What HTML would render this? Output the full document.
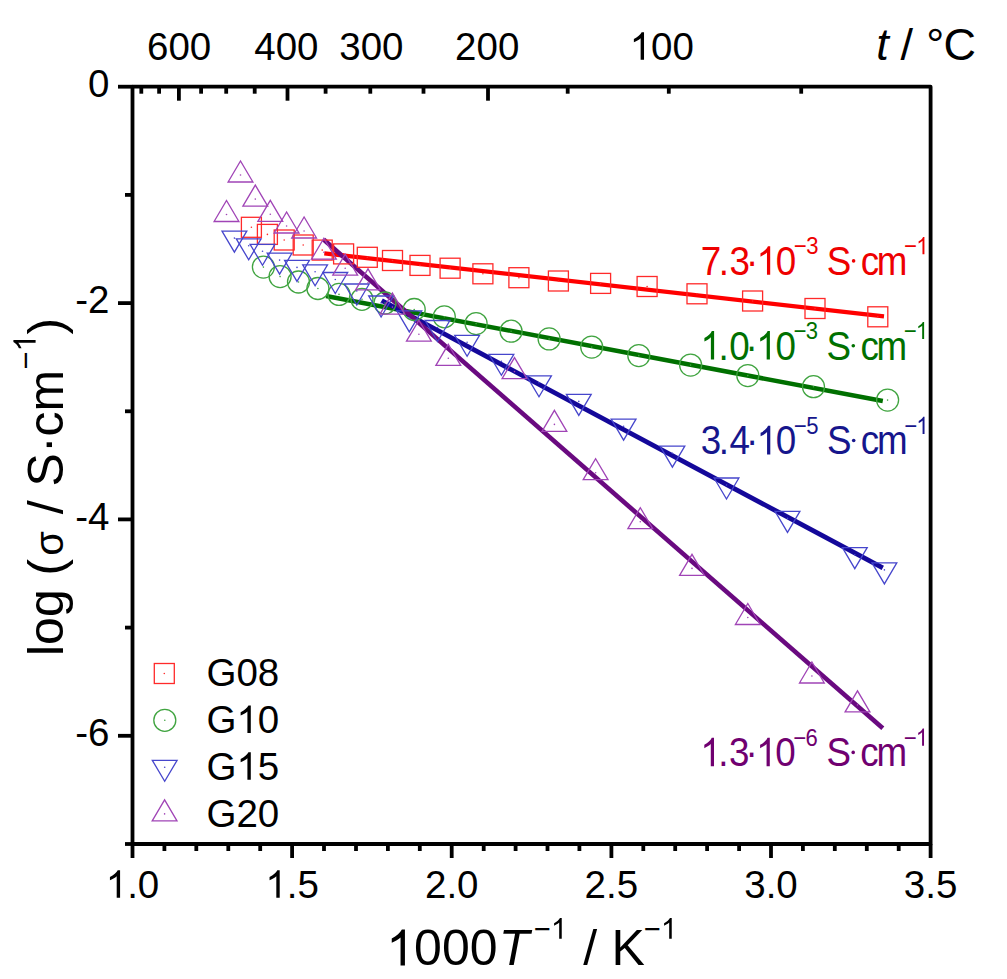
<!DOCTYPE html>
<html><head><meta charset="utf-8"><style>
html,body{margin:0;padding:0;background:#fff;width:1007px;height:979px;overflow:hidden}
svg{display:block}
text{font-family:"Liberation Sans",sans-serif}
</style></head><body><svg width="1007" height="979" viewBox="0 0 1007 979" font-family="Liberation Sans, sans-serif"><rect x="132.5" y="86.7" width="798.1" height="757.3" fill="none" stroke="#000" stroke-width="3.8" stroke-linejoin="round"/><line x1="118.0" y1="86.7" x2="132.5" y2="86.7" stroke="#000" stroke-width="3.8"/><line x1="125.0" y1="194.9" x2="132.5" y2="194.9" stroke="#000" stroke-width="3.8"/><line x1="118.0" y1="303.1" x2="132.5" y2="303.1" stroke="#000" stroke-width="3.8"/><line x1="125.0" y1="411.3" x2="132.5" y2="411.3" stroke="#000" stroke-width="3.8"/><line x1="118.0" y1="519.4" x2="132.5" y2="519.4" stroke="#000" stroke-width="3.8"/><line x1="125.0" y1="627.6" x2="132.5" y2="627.6" stroke="#000" stroke-width="3.8"/><line x1="118.0" y1="735.8" x2="132.5" y2="735.8" stroke="#000" stroke-width="3.8"/><line x1="125.0" y1="844.0" x2="132.5" y2="844.0" stroke="#000" stroke-width="3.8"/><line x1="132.5" y1="844.0" x2="132.5" y2="858.0" stroke="#000" stroke-width="3.8"/><line x1="164.4" y1="844.0" x2="164.4" y2="851.0" stroke="#000" stroke-width="3.8"/><line x1="196.3" y1="844.0" x2="196.3" y2="851.0" stroke="#000" stroke-width="3.8"/><line x1="228.3" y1="844.0" x2="228.3" y2="851.0" stroke="#000" stroke-width="3.8"/><line x1="260.2" y1="844.0" x2="260.2" y2="851.0" stroke="#000" stroke-width="3.8"/><line x1="292.1" y1="844.0" x2="292.1" y2="858.0" stroke="#000" stroke-width="3.8"/><line x1="324.0" y1="844.0" x2="324.0" y2="851.0" stroke="#000" stroke-width="3.8"/><line x1="356.0" y1="844.0" x2="356.0" y2="851.0" stroke="#000" stroke-width="3.8"/><line x1="387.9" y1="844.0" x2="387.9" y2="851.0" stroke="#000" stroke-width="3.8"/><line x1="419.8" y1="844.0" x2="419.8" y2="851.0" stroke="#000" stroke-width="3.8"/><line x1="451.7" y1="844.0" x2="451.7" y2="858.0" stroke="#000" stroke-width="3.8"/><line x1="483.7" y1="844.0" x2="483.7" y2="851.0" stroke="#000" stroke-width="3.8"/><line x1="515.6" y1="844.0" x2="515.6" y2="851.0" stroke="#000" stroke-width="3.8"/><line x1="547.5" y1="844.0" x2="547.5" y2="851.0" stroke="#000" stroke-width="3.8"/><line x1="579.4" y1="844.0" x2="579.4" y2="851.0" stroke="#000" stroke-width="3.8"/><line x1="611.4" y1="844.0" x2="611.4" y2="858.0" stroke="#000" stroke-width="3.8"/><line x1="643.3" y1="844.0" x2="643.3" y2="851.0" stroke="#000" stroke-width="3.8"/><line x1="675.2" y1="844.0" x2="675.2" y2="851.0" stroke="#000" stroke-width="3.8"/><line x1="707.1" y1="844.0" x2="707.1" y2="851.0" stroke="#000" stroke-width="3.8"/><line x1="739.1" y1="844.0" x2="739.1" y2="851.0" stroke="#000" stroke-width="3.8"/><line x1="771.0" y1="844.0" x2="771.0" y2="858.0" stroke="#000" stroke-width="3.8"/><line x1="802.9" y1="844.0" x2="802.9" y2="851.0" stroke="#000" stroke-width="3.8"/><line x1="834.8" y1="844.0" x2="834.8" y2="851.0" stroke="#000" stroke-width="3.8"/><line x1="866.8" y1="844.0" x2="866.8" y2="851.0" stroke="#000" stroke-width="3.8"/><line x1="898.7" y1="844.0" x2="898.7" y2="851.0" stroke="#000" stroke-width="3.8"/><line x1="930.6" y1="844.0" x2="930.6" y2="858.0" stroke="#000" stroke-width="3.8"/><line x1="141.3" y1="86.7" x2="141.3" y2="93.7" stroke="#000" stroke-width="3.8"/><line x1="159.1" y1="86.7" x2="159.1" y2="93.7" stroke="#000" stroke-width="3.8"/><line x1="178.9" y1="86.7" x2="178.9" y2="100.7" stroke="#000" stroke-width="3.8"/><line x1="201.1" y1="86.7" x2="201.1" y2="93.7" stroke="#000" stroke-width="3.8"/><line x1="226.2" y1="86.7" x2="226.2" y2="93.7" stroke="#000" stroke-width="3.8"/><line x1="254.7" y1="86.7" x2="254.7" y2="93.7" stroke="#000" stroke-width="3.8"/><line x1="287.5" y1="86.7" x2="287.5" y2="100.7" stroke="#000" stroke-width="3.8"/><line x1="325.6" y1="86.7" x2="325.6" y2="93.7" stroke="#000" stroke-width="3.8"/><line x1="370.3" y1="86.7" x2="370.3" y2="93.7" stroke="#000" stroke-width="3.8"/><line x1="423.5" y1="86.7" x2="423.5" y2="93.7" stroke="#000" stroke-width="3.8"/><line x1="488.0" y1="86.7" x2="488.0" y2="100.7" stroke="#000" stroke-width="3.8"/><line x1="567.7" y1="86.7" x2="567.7" y2="93.7" stroke="#000" stroke-width="3.8"/><line x1="668.8" y1="86.7" x2="668.8" y2="93.7" stroke="#000" stroke-width="3.8"/><line x1="801.2" y1="86.7" x2="801.2" y2="93.7" stroke="#000" stroke-width="3.8"/><line x1="324.3" y1="253.3" x2="884" y2="316.3" stroke="#ff0000" stroke-width="4.2"/><line x1="326" y1="296" x2="882.8" y2="401" stroke="#007000" stroke-width="4.5"/><line x1="381.7" y1="300.5" x2="882.8" y2="567.8" stroke="#14089a" stroke-width="4.8"/><line x1="323.6" y1="239.6" x2="882.8" y2="728.3" stroke="#6a0a80" stroke-width="4.6"/><rect x="241.4" y="217.3" width="20.0" height="20.0" fill="none" stroke="#ff2a2a" stroke-width="1.3"/><circle cx="251.4" cy="227.3" r="0.8" fill="#ff2a2a"/><rect x="257.4" y="224.4" width="20.0" height="20.0" fill="none" stroke="#ff2a2a" stroke-width="1.3"/><circle cx="267.4" cy="234.4" r="0.8" fill="#ff2a2a"/><rect x="274.2" y="230.0" width="20.0" height="20.0" fill="none" stroke="#ff2a2a" stroke-width="1.3"/><circle cx="284.2" cy="240.0" r="0.8" fill="#ff2a2a"/><rect x="293.2" y="235.0" width="20.0" height="20.0" fill="none" stroke="#ff2a2a" stroke-width="1.3"/><circle cx="303.2" cy="245.0" r="0.8" fill="#ff2a2a"/><rect x="312.2" y="240.1" width="20.0" height="20.0" fill="none" stroke="#ff2a2a" stroke-width="1.3"/><circle cx="322.2" cy="250.1" r="0.8" fill="#ff2a2a"/><rect x="333.6" y="243.9" width="20.0" height="20.0" fill="none" stroke="#ff2a2a" stroke-width="1.3"/><circle cx="343.6" cy="253.9" r="0.8" fill="#ff2a2a"/><rect x="357.3" y="247.3" width="20.0" height="20.0" fill="none" stroke="#ff2a2a" stroke-width="1.3"/><circle cx="367.3" cy="257.3" r="0.8" fill="#ff2a2a"/><rect x="382.5" y="250.5" width="20.0" height="20.0" fill="none" stroke="#ff2a2a" stroke-width="1.3"/><circle cx="392.5" cy="260.5" r="0.8" fill="#ff2a2a"/><rect x="410.0" y="255.4" width="20.0" height="20.0" fill="none" stroke="#ff2a2a" stroke-width="1.3"/><circle cx="420.0" cy="265.4" r="0.8" fill="#ff2a2a"/><rect x="440.1" y="258.2" width="20.0" height="20.0" fill="none" stroke="#ff2a2a" stroke-width="1.3"/><circle cx="450.1" cy="268.2" r="0.8" fill="#ff2a2a"/><rect x="472.9" y="263.8" width="20.0" height="20.0" fill="none" stroke="#ff2a2a" stroke-width="1.3"/><circle cx="482.9" cy="273.8" r="0.8" fill="#ff2a2a"/><rect x="508.9" y="267.7" width="20.0" height="20.0" fill="none" stroke="#ff2a2a" stroke-width="1.3"/><circle cx="518.9" cy="277.7" r="0.8" fill="#ff2a2a"/><rect x="548.4" y="271.0" width="20.0" height="20.0" fill="none" stroke="#ff2a2a" stroke-width="1.3"/><circle cx="558.4" cy="281.0" r="0.8" fill="#ff2a2a"/><rect x="590.6" y="273.4" width="20.0" height="20.0" fill="none" stroke="#ff2a2a" stroke-width="1.3"/><circle cx="600.6" cy="283.4" r="0.8" fill="#ff2a2a"/><rect x="637.1" y="276.5" width="20.0" height="20.0" fill="none" stroke="#ff2a2a" stroke-width="1.3"/><circle cx="647.1" cy="286.5" r="0.8" fill="#ff2a2a"/><rect x="687.0" y="283.8" width="20.0" height="20.0" fill="none" stroke="#ff2a2a" stroke-width="1.3"/><circle cx="697.0" cy="293.8" r="0.8" fill="#ff2a2a"/><rect x="742.6" y="291.0" width="20.0" height="20.0" fill="none" stroke="#ff2a2a" stroke-width="1.3"/><circle cx="752.6" cy="301.0" r="0.8" fill="#ff2a2a"/><rect x="805.0" y="298.5" width="20.0" height="20.0" fill="none" stroke="#ff2a2a" stroke-width="1.3"/><circle cx="815.0" cy="308.5" r="0.8" fill="#ff2a2a"/><rect x="867.8" y="306.8" width="20.0" height="20.0" fill="none" stroke="#ff2a2a" stroke-width="1.3"/><circle cx="877.8" cy="316.8" r="0.8" fill="#ff2a2a"/><circle cx="263.4" cy="267.1" r="11.0" fill="none" stroke="#40a440" stroke-width="1.3"/><circle cx="263.4" cy="267.1" r="0.8" fill="#40a440"/><circle cx="280.1" cy="276.6" r="11.0" fill="none" stroke="#40a440" stroke-width="1.3"/><circle cx="280.1" cy="276.6" r="0.8" fill="#40a440"/><circle cx="298.5" cy="282.0" r="11.0" fill="none" stroke="#40a440" stroke-width="1.3"/><circle cx="298.5" cy="282.0" r="0.8" fill="#40a440"/><circle cx="317.9" cy="288.5" r="11.0" fill="none" stroke="#40a440" stroke-width="1.3"/><circle cx="317.9" cy="288.5" r="0.8" fill="#40a440"/><circle cx="339.0" cy="294.4" r="11.0" fill="none" stroke="#40a440" stroke-width="1.3"/><circle cx="339.0" cy="294.4" r="0.8" fill="#40a440"/><circle cx="362.0" cy="299.3" r="11.0" fill="none" stroke="#40a440" stroke-width="1.3"/><circle cx="362.0" cy="299.3" r="0.8" fill="#40a440"/><circle cx="385.0" cy="303.0" r="11.0" fill="none" stroke="#40a440" stroke-width="1.3"/><circle cx="385.0" cy="303.0" r="0.8" fill="#40a440"/><circle cx="414.2" cy="309.5" r="11.0" fill="none" stroke="#40a440" stroke-width="1.3"/><circle cx="414.2" cy="309.5" r="0.8" fill="#40a440"/><circle cx="444.3" cy="316.8" r="11.0" fill="none" stroke="#40a440" stroke-width="1.3"/><circle cx="444.3" cy="316.8" r="0.8" fill="#40a440"/><circle cx="476.1" cy="323.6" r="11.0" fill="none" stroke="#40a440" stroke-width="1.3"/><circle cx="476.1" cy="323.6" r="0.8" fill="#40a440"/><circle cx="511.1" cy="331.2" r="11.0" fill="none" stroke="#40a440" stroke-width="1.3"/><circle cx="511.1" cy="331.2" r="0.8" fill="#40a440"/><circle cx="549.1" cy="338.9" r="11.0" fill="none" stroke="#40a440" stroke-width="1.3"/><circle cx="549.1" cy="338.9" r="0.8" fill="#40a440"/><circle cx="591.7" cy="347.1" r="11.0" fill="none" stroke="#40a440" stroke-width="1.3"/><circle cx="591.7" cy="347.1" r="0.8" fill="#40a440"/><circle cx="638.8" cy="355.6" r="11.0" fill="none" stroke="#40a440" stroke-width="1.3"/><circle cx="638.8" cy="355.6" r="0.8" fill="#40a440"/><circle cx="690.6" cy="365.1" r="11.0" fill="none" stroke="#40a440" stroke-width="1.3"/><circle cx="690.6" cy="365.1" r="0.8" fill="#40a440"/><circle cx="747.8" cy="375.6" r="11.0" fill="none" stroke="#40a440" stroke-width="1.3"/><circle cx="747.8" cy="375.6" r="0.8" fill="#40a440"/><circle cx="813.5" cy="386.7" r="11.0" fill="none" stroke="#40a440" stroke-width="1.3"/><circle cx="813.5" cy="386.7" r="0.8" fill="#40a440"/><circle cx="887.6" cy="400.1" r="11.0" fill="none" stroke="#40a440" stroke-width="1.3"/><circle cx="887.6" cy="400.1" r="0.8" fill="#40a440"/><path d="M222.0 231.1H246.8L234.4 252.1Z" fill="none" stroke="#4646cc" stroke-width="1.3" stroke-linejoin="miter"/><circle cx="234.4" cy="238.1" r="0.8" fill="#4646cc"/><path d="M236.3 238.8H261.1L248.7 259.8Z" fill="none" stroke="#4646cc" stroke-width="1.3" stroke-linejoin="miter"/><circle cx="248.7" cy="245.8" r="0.8" fill="#4646cc"/><path d="M250.1 244.3H274.9L262.5 265.3Z" fill="none" stroke="#4646cc" stroke-width="1.3" stroke-linejoin="miter"/><circle cx="262.5" cy="251.3" r="0.8" fill="#4646cc"/><path d="M267.2 253.1H292.0L279.6 274.1Z" fill="none" stroke="#4646cc" stroke-width="1.3" stroke-linejoin="miter"/><circle cx="279.6" cy="260.1" r="0.8" fill="#4646cc"/><path d="M284.6 260.4H309.4L297.0 281.4Z" fill="none" stroke="#4646cc" stroke-width="1.3" stroke-linejoin="miter"/><circle cx="297.0" cy="267.4" r="0.8" fill="#4646cc"/><path d="M302.7 264.8H327.5L315.1 285.8Z" fill="none" stroke="#4646cc" stroke-width="1.3" stroke-linejoin="miter"/><circle cx="315.1" cy="271.8" r="0.8" fill="#4646cc"/><path d="M322.9 272.5H347.7L335.3 293.5Z" fill="none" stroke="#4646cc" stroke-width="1.3" stroke-linejoin="miter"/><circle cx="335.3" cy="279.5" r="0.8" fill="#4646cc"/><path d="M344.4 284.0H369.2L356.8 305.0Z" fill="none" stroke="#4646cc" stroke-width="1.3" stroke-linejoin="miter"/><circle cx="356.8" cy="291.0" r="0.8" fill="#4646cc"/><path d="M368.7 296.0H393.5L381.1 317.0Z" fill="none" stroke="#4646cc" stroke-width="1.3" stroke-linejoin="miter"/><circle cx="381.1" cy="303.0" r="0.8" fill="#4646cc"/><path d="M396.9 310.9H421.7L409.3 331.9Z" fill="none" stroke="#4646cc" stroke-width="1.3" stroke-linejoin="miter"/><circle cx="409.3" cy="317.9" r="0.8" fill="#4646cc"/><path d="M425.1 320.5H449.9L437.5 341.5Z" fill="none" stroke="#4646cc" stroke-width="1.3" stroke-linejoin="miter"/><circle cx="437.5" cy="327.5" r="0.8" fill="#4646cc"/><path d="M454.7 335.3H479.5L467.1 356.3Z" fill="none" stroke="#4646cc" stroke-width="1.3" stroke-linejoin="miter"/><circle cx="467.1" cy="342.3" r="0.8" fill="#4646cc"/><path d="M489.0 354.3H513.8L501.4 375.3Z" fill="none" stroke="#4646cc" stroke-width="1.3" stroke-linejoin="miter"/><circle cx="501.4" cy="361.3" r="0.8" fill="#4646cc"/><path d="M526.6 375.8H551.4L539.0 396.8Z" fill="none" stroke="#4646cc" stroke-width="1.3" stroke-linejoin="miter"/><circle cx="539.0" cy="382.8" r="0.8" fill="#4646cc"/><path d="M566.4 394.4H591.2L578.8 415.4Z" fill="none" stroke="#4646cc" stroke-width="1.3" stroke-linejoin="miter"/><circle cx="578.8" cy="401.4" r="0.8" fill="#4646cc"/><path d="M611.2 419.2H636.0L623.6 440.2Z" fill="none" stroke="#4646cc" stroke-width="1.3" stroke-linejoin="miter"/><circle cx="623.6" cy="426.2" r="0.8" fill="#4646cc"/><path d="M660.0 446.2H684.8L672.4 467.2Z" fill="none" stroke="#4646cc" stroke-width="1.3" stroke-linejoin="miter"/><circle cx="672.4" cy="453.2" r="0.8" fill="#4646cc"/><path d="M714.1 478.0H738.9L726.5 499.0Z" fill="none" stroke="#4646cc" stroke-width="1.3" stroke-linejoin="miter"/><circle cx="726.5" cy="485.0" r="0.8" fill="#4646cc"/><path d="M775.1 511.4H799.9L787.5 532.4Z" fill="none" stroke="#4646cc" stroke-width="1.3" stroke-linejoin="miter"/><circle cx="787.5" cy="518.4" r="0.8" fill="#4646cc"/><path d="M842.4 547.7H867.2L854.8 568.7Z" fill="none" stroke="#4646cc" stroke-width="1.3" stroke-linejoin="miter"/><circle cx="854.8" cy="554.7" r="0.8" fill="#4646cc"/><path d="M872.0 562.9H896.8L884.4 583.9Z" fill="none" stroke="#4646cc" stroke-width="1.3" stroke-linejoin="miter"/><circle cx="884.4" cy="569.9" r="0.8" fill="#4646cc"/><path d="M214.1 221.5H238.9L226.5 200.5Z" fill="none" stroke="#a044b6" stroke-width="1.3" stroke-linejoin="miter"/><circle cx="226.5" cy="214.5" r="0.8" fill="#a044b6"/><path d="M228.1 182.0H252.9L240.5 161.0Z" fill="none" stroke="#a044b6" stroke-width="1.3" stroke-linejoin="miter"/><circle cx="240.5" cy="175.0" r="0.8" fill="#a044b6"/><path d="M242.9 206.1H267.7L255.3 185.1Z" fill="none" stroke="#a044b6" stroke-width="1.3" stroke-linejoin="miter"/><circle cx="255.3" cy="199.1" r="0.8" fill="#a044b6"/><path d="M257.9 221.3H282.7L270.3 200.3Z" fill="none" stroke="#a044b6" stroke-width="1.3" stroke-linejoin="miter"/><circle cx="270.3" cy="214.3" r="0.8" fill="#a044b6"/><path d="M274.2 233.0H299.0L286.6 212.0Z" fill="none" stroke="#a044b6" stroke-width="1.3" stroke-linejoin="miter"/><circle cx="286.6" cy="226.0" r="0.8" fill="#a044b6"/><path d="M291.7 238.0H316.5L304.1 217.0Z" fill="none" stroke="#a044b6" stroke-width="1.3" stroke-linejoin="miter"/><circle cx="304.1" cy="231.0" r="0.8" fill="#a044b6"/><path d="M311.5 259.2H336.3L323.9 238.2Z" fill="none" stroke="#a044b6" stroke-width="1.3" stroke-linejoin="miter"/><circle cx="323.9" cy="252.2" r="0.8" fill="#a044b6"/><path d="M332.8 275.2H357.6L345.2 254.2Z" fill="none" stroke="#a044b6" stroke-width="1.3" stroke-linejoin="miter"/><circle cx="345.2" cy="268.2" r="0.8" fill="#a044b6"/><path d="M355.6 289.9H380.4L368.0 268.9Z" fill="none" stroke="#a044b6" stroke-width="1.3" stroke-linejoin="miter"/><circle cx="368.0" cy="282.9" r="0.8" fill="#a044b6"/><path d="M380.0 314.1H404.8L392.4 293.1Z" fill="none" stroke="#a044b6" stroke-width="1.3" stroke-linejoin="miter"/><circle cx="392.4" cy="307.1" r="0.8" fill="#a044b6"/><path d="M406.5 341.2H431.3L418.9 320.2Z" fill="none" stroke="#a044b6" stroke-width="1.3" stroke-linejoin="miter"/><circle cx="418.9" cy="334.2" r="0.8" fill="#a044b6"/><path d="M435.9 365.3H460.7L448.3 344.3Z" fill="none" stroke="#a044b6" stroke-width="1.3" stroke-linejoin="miter"/><circle cx="448.3" cy="358.3" r="0.8" fill="#a044b6"/><path d="M502.1 378.6H526.9L514.5 357.6Z" fill="none" stroke="#a044b6" stroke-width="1.3" stroke-linejoin="miter"/><circle cx="514.5" cy="371.6" r="0.8" fill="#a044b6"/><path d="M542.0 431.4H566.8L554.4 410.4Z" fill="none" stroke="#a044b6" stroke-width="1.3" stroke-linejoin="miter"/><circle cx="554.4" cy="424.4" r="0.8" fill="#a044b6"/><path d="M583.2 479.7H608.0L595.6 458.7Z" fill="none" stroke="#a044b6" stroke-width="1.3" stroke-linejoin="miter"/><circle cx="595.6" cy="472.7" r="0.8" fill="#a044b6"/><path d="M627.9 528.7H652.7L640.3 507.7Z" fill="none" stroke="#a044b6" stroke-width="1.3" stroke-linejoin="miter"/><circle cx="640.3" cy="521.7" r="0.8" fill="#a044b6"/><path d="M679.6 575.4H704.4L692.0 554.4Z" fill="none" stroke="#a044b6" stroke-width="1.3" stroke-linejoin="miter"/><circle cx="692.0" cy="568.4" r="0.8" fill="#a044b6"/><path d="M735.4 624.5H760.2L747.8 603.5Z" fill="none" stroke="#a044b6" stroke-width="1.3" stroke-linejoin="miter"/><circle cx="747.8" cy="617.5" r="0.8" fill="#a044b6"/><path d="M799.5 683.0H824.3L811.9 662.0Z" fill="none" stroke="#a044b6" stroke-width="1.3" stroke-linejoin="miter"/><circle cx="811.9" cy="676.0" r="0.8" fill="#a044b6"/><path d="M845.1 711.9H869.9L857.5 690.9Z" fill="none" stroke="#a044b6" stroke-width="1.3" stroke-linejoin="miter"/><circle cx="857.5" cy="704.9" r="0.8" fill="#a044b6"/><text x="88.09" y="96.90" font-size="38.5" fill="#000">0</text><text x="75.27" y="313.27" font-size="38.5" fill="#000">-</text><text x="88.09" y="313.27" font-size="38.5" fill="#000">2</text><text x="75.27" y="529.64" font-size="38.5" fill="#000">-</text><text x="88.09" y="529.64" font-size="38.5" fill="#000">4</text><text x="75.27" y="746.01" font-size="38.5" fill="#000">-</text><text x="88.09" y="746.01" font-size="38.5" fill="#000">6</text><path d="M120.08 897.70L116.70 897.70L116.70 876.14C115.88 876.92 114.81 877.70 113.48 878.48C112.15 879.26 110.96 879.84 109.93 880.22L109.93 876.94C111.78 876.08 113.40 875.03 114.79 873.79C116.17 872.55 117.15 871.34 117.73 870.14L120.08 870.14Z" fill="#000"/><text x="127.15" y="897.70" font-size="38.5" fill="#000">.</text><text x="137.85" y="897.70" font-size="38.5" fill="#000">0</text><path d="M279.70 897.70L276.32 897.70L276.32 876.14C275.50 876.92 274.43 877.70 273.10 878.48C271.77 879.26 270.58 879.84 269.55 880.22L269.55 876.94C271.40 876.08 273.02 875.03 274.41 873.79C275.79 872.55 276.77 871.34 277.35 870.14L279.70 870.14Z" fill="#000"/><text x="286.77" y="897.70" font-size="38.5" fill="#000">.</text><text x="297.47" y="897.70" font-size="38.5" fill="#000">5</text><text x="424.98" y="897.70" font-size="38.5" fill="#000">2</text><text x="446.39" y="897.70" font-size="38.5" fill="#000">.</text><text x="457.09" y="897.70" font-size="38.5" fill="#000">0</text><text x="584.60" y="897.70" font-size="38.5" fill="#000">2</text><text x="606.01" y="897.70" font-size="38.5" fill="#000">.</text><text x="616.71" y="897.70" font-size="38.5" fill="#000">5</text><text x="744.22" y="897.70" font-size="38.5" fill="#000">3</text><text x="765.63" y="897.70" font-size="38.5" fill="#000">.</text><text x="776.33" y="897.70" font-size="38.5" fill="#000">0</text><text x="903.84" y="897.70" font-size="38.5" fill="#000">3</text><text x="925.25" y="897.70" font-size="38.5" fill="#000">.</text><text x="935.95" y="897.70" font-size="38.5" fill="#000">5</text><text x="146.98" y="59.70" font-size="38.5" fill="#000">6</text><text x="168.39" y="59.70" font-size="38.5" fill="#000">0</text><text x="189.81" y="59.70" font-size="38.5" fill="#000">0</text><text x="254.28" y="59.70" font-size="38.5" fill="#000">4</text><text x="275.69" y="59.70" font-size="38.5" fill="#000">0</text><text x="297.11" y="59.70" font-size="38.5" fill="#000">0</text><text x="339.28" y="59.70" font-size="38.5" fill="#000">3</text><text x="360.69" y="59.70" font-size="38.5" fill="#000">0</text><text x="382.11" y="59.70" font-size="38.5" fill="#000">0</text><text x="455.08" y="59.70" font-size="38.5" fill="#000">2</text><text x="476.49" y="59.70" font-size="38.5" fill="#000">0</text><text x="497.91" y="59.70" font-size="38.5" fill="#000">0</text><path d="M644.03 59.70L640.64 59.70L640.64 38.14C639.82 38.92 638.75 39.70 637.42 40.48C636.10 41.26 634.90 41.84 633.87 42.22L633.87 38.94C635.73 38.08 637.34 37.03 638.73 35.79C640.12 34.55 641.09 33.34 641.67 32.14L644.03 32.14Z" fill="#000"/><text x="651.09" y="59.70" font-size="38.5" fill="#000">0</text><text x="672.51" y="59.70" font-size="38.5" fill="#000">0</text><text x="876.30" y="59.50" font-size="45" fill="#000" font-style="italic">t</text><text x="900.40" y="59.50" font-size="45" fill="#000">/</text><text x="926.30" y="59.50" font-size="45" fill="#000">°</text><text x="943.40" y="59.50" font-size="45" fill="#000">C</text><path d="M404.93 965.40L400.54 965.40L400.54 937.39C399.47 938.41 398.07 939.42 396.35 940.44C394.63 941.45 393.07 942.20 391.75 942.69L391.75 938.44C394.15 937.32 396.25 935.95 398.05 934.35C399.85 932.74 401.12 931.17 401.88 929.61L404.93 929.61Z" fill="#000"/><text x="414.11" y="965.40" font-size="50" fill="#000">0</text><text x="441.92" y="965.40" font-size="50" fill="#000">0</text><text x="469.72" y="965.40" font-size="50" fill="#000">0</text><text x="498.70" y="965.40" font-size="50" fill="#000" font-style="italic">T</text><text x="534.00" y="938.80" font-size="29" fill="#000">−</text><path d="M561.74 938.80L559.19 938.80L559.19 922.56C558.57 923.15 557.77 923.73 556.76 924.32C555.77 924.91 554.87 925.35 554.09 925.63L554.09 923.17C555.49 922.52 556.71 921.72 557.75 920.79C558.79 919.85 559.53 918.95 559.97 918.04L561.74 918.04Z" fill="#000"/><text x="583.20" y="965.40" font-size="50" fill="#000">/</text><text x="611.40" y="965.40" font-size="50" fill="#000">K</text><text x="644.00" y="938.80" font-size="29" fill="#000">−</text><path d="M671.74 938.80L669.19 938.80L669.19 922.56C668.57 923.15 667.77 923.73 666.76 924.32C665.77 924.91 664.87 925.35 664.09 925.63L664.09 923.17C665.49 922.52 666.71 921.72 667.75 920.79C668.79 919.85 669.53 918.95 669.97 918.04L671.74 918.04Z" fill="#000"/><g transform="translate(63,656) rotate(-90)"><text x="0.00" y="0.00" font-size="50" fill="#000">l</text><text x="11.11" y="0.00" font-size="50" fill="#000">o</text><text x="38.92" y="0.00" font-size="50" fill="#000">g</text><text x="80.62" y="0.00" font-size="50" fill="#000">(</text><text x="100.27" y="0.00" font-size="40" fill="#000">σ</text><text x="141.84" y="0.00" font-size="50" fill="#000">/</text><text x="169.63" y="0.00" font-size="50" fill="#000">S</text><text x="202.98" y="0.00" font-size="50" fill="#000">·</text><text x="219.63" y="0.00" font-size="50" fill="#000">c</text><text x="244.63" y="0.00" font-size="50" fill="#000">m</text><text x="286.28" y="-27.40" font-size="31" fill="#000">−</text><path d="M315.93 -27.40L313.21 -27.40L313.21 -44.76C312.55 -44.13 311.68 -43.50 310.61 -42.88C309.55 -42.25 308.58 -41.78 307.76 -41.48L307.76 -44.11C309.25 -44.81 310.55 -45.66 311.67 -46.65C312.78 -47.65 313.57 -48.62 314.04 -49.59L315.93 -49.59Z" fill="#000"/><text x="321.62" y="0.00" font-size="50" fill="#000">)</text></g><text transform="translate(700.70,274.80) scale(0.92,1)" font-size="40" fill="#ee0000">7</text><text transform="translate(718.75,274.80) scale(0.92,1)" font-size="40" fill="#ee0000">.</text><text transform="translate(729.52,274.80) scale(0.92,1)" font-size="40" fill="#ee0000">3</text><text transform="translate(745.92,274.80) scale(0.92,1)" font-size="40" fill="#ee0000">·</text><path d="M770.20 274.80L766.97 274.80L766.97 252.40C766.19 253.21 765.16 254.02 763.89 254.83C762.62 255.64 761.48 256.24 760.50 256.64L760.50 253.24C762.27 252.34 763.82 251.24 765.14 249.96C766.47 248.67 767.40 247.42 767.96 246.17L770.20 246.17Z" fill="#ee0000"/><text transform="translate(775.76,274.80) scale(0.92,1)" font-size="40" fill="#ee0000">0</text><text transform="translate(793.72,254.30) scale(0.92,1)" font-size="24" fill="#ee0000">−</text><text transform="translate(806.16,254.30) scale(0.92,1)" font-size="24" fill="#ee0000">3</text><text transform="translate(826.84,274.80) scale(0.92,1)" font-size="40" fill="#ee0000">S</text><circle cx="853.6" cy="260.9" r="1.8" fill="#ee0000"/><text transform="translate(860.75,274.80) scale(0.92,1)" font-size="40" fill="#ee0000">c</text><text transform="translate(876.87,274.80) scale(0.92,1)" font-size="40" fill="#ee0000">m</text><text transform="translate(904.12,254.30) scale(0.92,1)" font-size="24" fill="#ee0000">−</text><path d="M924.42 254.30L922.48 254.30L922.48 240.86C922.01 241.34 921.40 241.83 920.63 242.32C919.87 242.80 919.19 243.17 918.60 243.40L918.60 241.36C919.66 240.82 920.59 240.17 921.38 239.39C922.18 238.62 922.74 237.87 923.07 237.12L924.42 237.12Z" fill="#ee0000"/><path d="M714.11 359.60L710.88 359.60L710.88 337.20C710.09 338.01 709.07 338.82 707.80 339.63C706.53 340.44 705.39 341.04 704.41 341.44L704.41 338.04C706.18 337.14 707.72 336.04 709.05 334.76C710.37 333.47 711.31 332.22 711.86 330.97L714.11 330.97Z" fill="#007000"/><text transform="translate(718.45,359.60) scale(0.92,1)" font-size="40" fill="#007000">.</text><text transform="translate(729.22,359.60) scale(0.92,1)" font-size="40" fill="#007000">0</text><text transform="translate(745.62,359.60) scale(0.92,1)" font-size="40" fill="#007000">·</text><path d="M769.90 359.60L766.67 359.60L766.67 337.20C765.89 338.01 764.86 338.82 763.59 339.63C762.32 340.44 761.18 341.04 760.20 341.44L760.20 338.04C761.97 337.14 763.52 336.04 764.84 334.76C766.17 333.47 767.10 332.22 767.66 330.97L769.90 330.97Z" fill="#007000"/><text transform="translate(775.46,359.60) scale(0.92,1)" font-size="40" fill="#007000">0</text><text transform="translate(793.42,339.10) scale(0.92,1)" font-size="24" fill="#007000">−</text><text transform="translate(805.86,339.10) scale(0.92,1)" font-size="24" fill="#007000">3</text><text transform="translate(826.54,359.60) scale(0.92,1)" font-size="40" fill="#007000">S</text><circle cx="853.3" cy="345.7" r="1.8" fill="#007000"/><text transform="translate(860.45,359.60) scale(0.92,1)" font-size="40" fill="#007000">c</text><text transform="translate(876.57,359.60) scale(0.92,1)" font-size="40" fill="#007000">m</text><text transform="translate(903.82,339.10) scale(0.92,1)" font-size="24" fill="#007000">−</text><path d="M924.12 339.10L922.18 339.10L922.18 325.66C921.71 326.14 921.10 326.63 920.33 327.12C919.57 327.60 918.89 327.97 918.30 328.20L918.30 326.16C919.36 325.62 920.29 324.97 921.08 324.19C921.88 323.42 922.44 322.67 922.77 321.92L924.12 321.92Z" fill="#007000"/><text transform="translate(700.80,454.40) scale(0.92,1)" font-size="40" fill="#16168c">3</text><text transform="translate(718.85,454.40) scale(0.92,1)" font-size="40" fill="#16168c">.</text><text transform="translate(729.57,454.40) scale(0.92,1)" font-size="40" fill="#16168c">4</text><text transform="translate(746.02,454.40) scale(0.92,1)" font-size="40" fill="#16168c">·</text><path d="M770.30 454.40L767.07 454.40L767.07 432.00C766.29 432.81 765.26 433.62 763.99 434.43C762.72 435.24 761.58 435.84 760.60 436.24L760.60 432.84C762.37 431.94 763.92 430.84 765.24 429.56C766.57 428.27 767.50 427.02 768.06 425.77L770.30 425.77Z" fill="#16168c"/><text transform="translate(775.86,454.40) scale(0.92,1)" font-size="40" fill="#16168c">0</text><text transform="translate(793.82,433.90) scale(0.92,1)" font-size="24" fill="#16168c">−</text><text transform="translate(806.22,433.90) scale(0.92,1)" font-size="24" fill="#16168c">5</text><text transform="translate(826.94,454.40) scale(0.92,1)" font-size="40" fill="#16168c">S</text><circle cx="853.7" cy="440.5" r="1.8" fill="#16168c"/><text transform="translate(860.85,454.40) scale(0.92,1)" font-size="40" fill="#16168c">c</text><text transform="translate(876.97,454.40) scale(0.92,1)" font-size="40" fill="#16168c">m</text><text transform="translate(904.22,433.90) scale(0.92,1)" font-size="24" fill="#16168c">−</text><path d="M924.52 433.90L922.58 433.90L922.58 420.46C922.11 420.94 921.50 421.43 920.73 421.92C919.97 422.40 919.29 422.77 918.70 423.00L918.70 420.96C919.76 420.42 920.69 419.77 921.48 418.99C922.28 418.22 922.84 417.47 923.17 416.72L924.52 416.72Z" fill="#16168c"/><path d="M714.01 766.30L710.78 766.30L710.78 743.90C709.99 744.71 708.97 745.52 707.70 746.33C706.43 747.14 705.29 747.74 704.31 748.14L704.31 744.74C706.08 743.84 707.62 742.74 708.95 741.46C710.27 740.17 711.21 738.92 711.76 737.67L714.01 737.67Z" fill="#700070"/><text transform="translate(718.35,766.30) scale(0.92,1)" font-size="40" fill="#700070">.</text><text transform="translate(729.12,766.30) scale(0.92,1)" font-size="40" fill="#700070">3</text><text transform="translate(745.52,766.30) scale(0.92,1)" font-size="40" fill="#700070">·</text><path d="M769.80 766.30L766.57 766.30L766.57 743.90C765.79 744.71 764.76 745.52 763.49 746.33C762.22 747.14 761.08 747.74 760.10 748.14L760.10 744.74C761.87 743.84 763.42 742.74 764.74 741.46C766.07 740.17 767.00 738.92 767.56 737.67L769.80 737.67Z" fill="#700070"/><text transform="translate(775.36,766.30) scale(0.92,1)" font-size="40" fill="#700070">0</text><text transform="translate(793.32,745.80) scale(0.92,1)" font-size="24" fill="#700070">−</text><text transform="translate(805.47,745.80) scale(0.92,1)" font-size="24" fill="#700070">6</text><text transform="translate(826.44,766.30) scale(0.92,1)" font-size="40" fill="#700070">S</text><circle cx="853.2" cy="752.4" r="1.8" fill="#700070"/><text transform="translate(860.35,766.30) scale(0.92,1)" font-size="40" fill="#700070">c</text><text transform="translate(876.47,766.30) scale(0.92,1)" font-size="40" fill="#700070">m</text><text transform="translate(903.72,745.80) scale(0.92,1)" font-size="24" fill="#700070">−</text><path d="M924.02 745.80L922.08 745.80L922.08 732.36C921.61 732.84 921.00 733.33 920.23 733.82C919.47 734.30 918.79 734.67 918.20 734.90L918.20 732.86C919.26 732.32 920.19 731.67 920.98 730.89C921.78 730.12 922.34 729.37 922.67 728.62L924.02 728.62Z" fill="#700070"/><rect x="154.3" y="663.5" width="20.0" height="20.0" fill="none" stroke="#ff2a2a" stroke-width="1.3"/><circle cx="164.3" cy="673.5" r="0.8" fill="#ff2a2a"/><circle cx="164.8" cy="720.3" r="11.0" fill="none" stroke="#40a440" stroke-width="1.3"/><circle cx="164.8" cy="720.3" r="0.8" fill="#40a440"/><path d="M152.3 760.3H177.1L164.7 781.3Z" fill="none" stroke="#4646cc" stroke-width="1.3" stroke-linejoin="miter"/><circle cx="164.7" cy="767.3" r="0.8" fill="#4646cc"/><path d="M152.2 820.9H177.0L164.6 799.9Z" fill="none" stroke="#a044b6" stroke-width="1.3" stroke-linejoin="miter"/><circle cx="164.6" cy="813.9" r="0.8" fill="#a044b6"/><text x="206.50" y="686.20" font-size="38.5" fill="#000">G</text><text x="236.45" y="686.20" font-size="38.5" fill="#000">0</text><text x="257.86" y="686.20" font-size="38.5" fill="#000">8</text><text x="206.50" y="732.97" font-size="38.5" fill="#000">G</text><path d="M250.79 732.97L247.41 732.97L247.41 711.41C246.59 712.19 245.51 712.97 244.19 713.75C242.86 714.53 241.66 715.11 240.64 715.49L240.64 712.21C242.49 711.35 244.11 710.30 245.49 709.06C246.88 707.82 247.86 706.61 248.44 705.41L250.79 705.41Z" fill="#000"/><text x="257.86" y="732.97" font-size="38.5" fill="#000">0</text><text x="206.50" y="779.74" font-size="38.5" fill="#000">G</text><path d="M250.79 779.74L247.41 779.74L247.41 758.18C246.59 758.96 245.51 759.74 244.19 760.52C242.86 761.30 241.66 761.88 240.64 762.26L240.64 758.98C242.49 758.12 244.11 757.07 245.49 755.83C246.88 754.59 247.86 753.38 248.44 752.18L250.79 752.18Z" fill="#000"/><text x="257.86" y="779.74" font-size="38.5" fill="#000">5</text><text x="206.50" y="826.51" font-size="38.5" fill="#000">G</text><text x="236.45" y="826.51" font-size="38.5" fill="#000">2</text><text x="257.86" y="826.51" font-size="38.5" fill="#000">0</text></svg></body></html>
